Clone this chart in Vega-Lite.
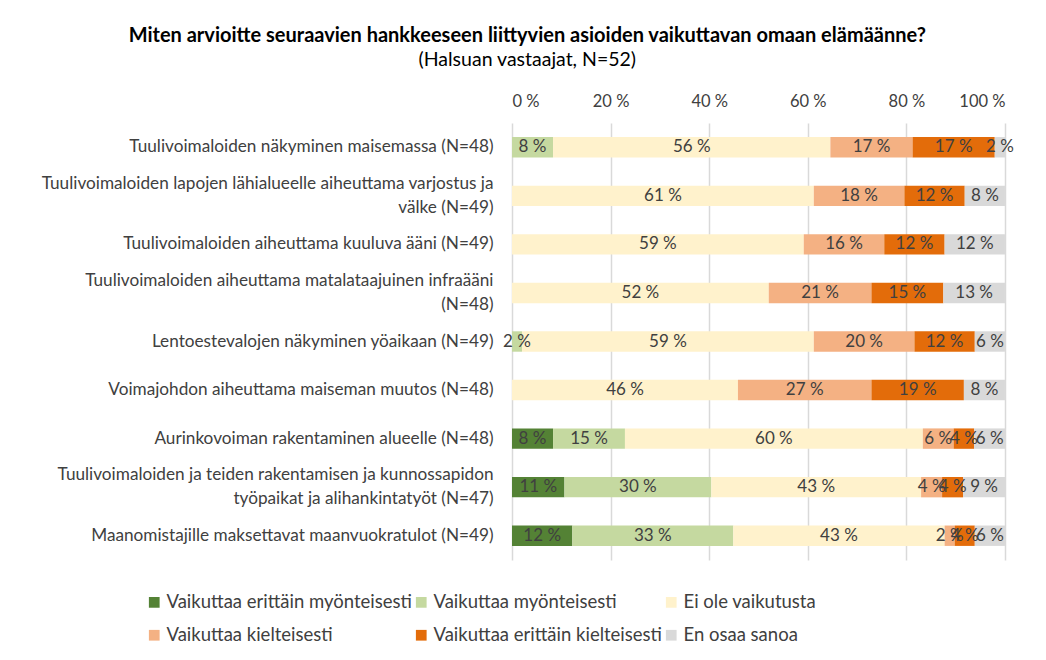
{
  "$schema": "https://vega.github.io/schema/vega-lite/v6.json",
  "width": 493,
  "height": 437,
  "padding": {"left": 40, "top": 25, "right": 15, "bottom": 5},
  "config": {"font": "Lato", "view": {"stroke": null}},
  "title": {
    "text": "Miten arvioitte seuraavien hankkeeseen liittyvien asioiden vaikuttavan omaan elämäänne?",
    "subtitle": "(Halsuan vastaajat, N=52)",
    "fontSize": 20,
    "fontWeight": "bold",
    "color": "#000000",
    "subtitleFontSize": 19.5,
    "subtitleColor": "#000000",
    "subtitlePadding": 5,
    "anchor": "middle",
    "frame": "bounds",
    "offset": 24
  },
  "data": {
    "values": [
      {"item": "Tuulivoimaloiden näkyminen maisemassa (N=48)", "cat": "Vaikuttaa erittäin myönteisesti", "k": 1, "value": 0},
      {"item": "Tuulivoimaloiden näkyminen maisemassa (N=48)", "cat": "Vaikuttaa myönteisesti", "k": 2, "value": 8.33},
      {"item": "Tuulivoimaloiden näkyminen maisemassa (N=48)", "cat": "Ei ole vaikutusta", "k": 3, "value": 56.25},
      {"item": "Tuulivoimaloiden näkyminen maisemassa (N=48)", "cat": "Vaikuttaa kielteisesti", "k": 4, "value": 16.67},
      {"item": "Tuulivoimaloiden näkyminen maisemassa (N=48)", "cat": "Vaikuttaa erittäin kielteisesti", "k": 5, "value": 16.67},
      {"item": "Tuulivoimaloiden näkyminen maisemassa (N=48)", "cat": "En osaa sanoa", "k": 6, "value": 2.08},
      {"item": "Tuulivoimaloiden lapojen lähialueelle aiheuttama varjostus ja|välke (N=49)", "cat": "Ei ole vaikutusta", "k": 3, "value": 61.22},
      {"item": "Tuulivoimaloiden lapojen lähialueelle aiheuttama varjostus ja|välke (N=49)", "cat": "Vaikuttaa kielteisesti", "k": 4, "value": 18.37},
      {"item": "Tuulivoimaloiden lapojen lähialueelle aiheuttama varjostus ja|välke (N=49)", "cat": "Vaikuttaa erittäin kielteisesti", "k": 5, "value": 12.24},
      {"item": "Tuulivoimaloiden lapojen lähialueelle aiheuttama varjostus ja|välke (N=49)", "cat": "En osaa sanoa", "k": 6, "value": 8.16},
      {"item": "Tuulivoimaloiden aiheuttama kuuluva ääni (N=49)", "cat": "Ei ole vaikutusta", "k": 3, "value": 59.18},
      {"item": "Tuulivoimaloiden aiheuttama kuuluva ääni (N=49)", "cat": "Vaikuttaa kielteisesti", "k": 4, "value": 16.33},
      {"item": "Tuulivoimaloiden aiheuttama kuuluva ääni (N=49)", "cat": "Vaikuttaa erittäin kielteisesti", "k": 5, "value": 12.24},
      {"item": "Tuulivoimaloiden aiheuttama kuuluva ääni (N=49)", "cat": "En osaa sanoa", "k": 6, "value": 12.24},
      {"item": "Tuulivoimaloiden aiheuttama matalataajuinen infraääni|(N=48)", "cat": "Ei ole vaikutusta", "k": 3, "value": 52.08},
      {"item": "Tuulivoimaloiden aiheuttama matalataajuinen infraääni|(N=48)", "cat": "Vaikuttaa kielteisesti", "k": 4, "value": 20.83},
      {"item": "Tuulivoimaloiden aiheuttama matalataajuinen infraääni|(N=48)", "cat": "Vaikuttaa erittäin kielteisesti", "k": 5, "value": 14.58},
      {"item": "Tuulivoimaloiden aiheuttama matalataajuinen infraääni|(N=48)", "cat": "En osaa sanoa", "k": 6, "value": 12.5},
      {"item": "Lentoestevalojen näkyminen yöaikaan (N=49)", "cat": "Vaikuttaa myönteisesti", "k": 2, "value": 2.04},
      {"item": "Lentoestevalojen näkyminen yöaikaan (N=49)", "cat": "Ei ole vaikutusta", "k": 3, "value": 59.18},
      {"item": "Lentoestevalojen näkyminen yöaikaan (N=49)", "cat": "Vaikuttaa kielteisesti", "k": 4, "value": 20.41},
      {"item": "Lentoestevalojen näkyminen yöaikaan (N=49)", "cat": "Vaikuttaa erittäin kielteisesti", "k": 5, "value": 12.24},
      {"item": "Lentoestevalojen näkyminen yöaikaan (N=49)", "cat": "En osaa sanoa", "k": 6, "value": 6.12},
      {"item": "Voimajohdon aiheuttama maiseman muutos (N=48)", "cat": "Ei ole vaikutusta", "k": 3, "value": 45.83},
      {"item": "Voimajohdon aiheuttama maiseman muutos (N=48)", "cat": "Vaikuttaa kielteisesti", "k": 4, "value": 27.08},
      {"item": "Voimajohdon aiheuttama maiseman muutos (N=48)", "cat": "Vaikuttaa erittäin kielteisesti", "k": 5, "value": 18.75},
      {"item": "Voimajohdon aiheuttama maiseman muutos (N=48)", "cat": "En osaa sanoa", "k": 6, "value": 8.33},
      {"item": "Aurinkovoiman rakentaminen alueelle (N=48)", "cat": "Vaikuttaa erittäin myönteisesti", "k": 1, "value": 8.33},
      {"item": "Aurinkovoiman rakentaminen alueelle (N=48)", "cat": "Vaikuttaa myönteisesti", "k": 2, "value": 14.58},
      {"item": "Aurinkovoiman rakentaminen alueelle (N=48)", "cat": "Ei ole vaikutusta", "k": 3, "value": 60.42},
      {"item": "Aurinkovoiman rakentaminen alueelle (N=48)", "cat": "Vaikuttaa kielteisesti", "k": 4, "value": 6.25},
      {"item": "Aurinkovoiman rakentaminen alueelle (N=48)", "cat": "Vaikuttaa erittäin kielteisesti", "k": 5, "value": 4.17},
      {"item": "Aurinkovoiman rakentaminen alueelle (N=48)", "cat": "En osaa sanoa", "k": 6, "value": 6.25},
      {"item": "Tuulivoimaloiden ja teiden rakentamisen ja kunnossapidon|työpaikat ja alihankintatyöt (N=47)", "cat": "Vaikuttaa erittäin myönteisesti", "k": 1, "value": 10.64},
      {"item": "Tuulivoimaloiden ja teiden rakentamisen ja kunnossapidon|työpaikat ja alihankintatyöt (N=47)", "cat": "Vaikuttaa myönteisesti", "k": 2, "value": 29.79},
      {"item": "Tuulivoimaloiden ja teiden rakentamisen ja kunnossapidon|työpaikat ja alihankintatyöt (N=47)", "cat": "Ei ole vaikutusta", "k": 3, "value": 42.55},
      {"item": "Tuulivoimaloiden ja teiden rakentamisen ja kunnossapidon|työpaikat ja alihankintatyöt (N=47)", "cat": "Vaikuttaa kielteisesti", "k": 4, "value": 4.26},
      {"item": "Tuulivoimaloiden ja teiden rakentamisen ja kunnossapidon|työpaikat ja alihankintatyöt (N=47)", "cat": "Vaikuttaa erittäin kielteisesti", "k": 5, "value": 4.26},
      {"item": "Tuulivoimaloiden ja teiden rakentamisen ja kunnossapidon|työpaikat ja alihankintatyöt (N=47)", "cat": "En osaa sanoa", "k": 6, "value": 8.51},
      {"item": "Maanomistajille maksettavat maanvuokratulot (N=49)", "cat": "Vaikuttaa erittäin myönteisesti", "k": 1, "value": 12.24},
      {"item": "Maanomistajille maksettavat maanvuokratulot (N=49)", "cat": "Vaikuttaa myönteisesti", "k": 2, "value": 32.65},
      {"item": "Maanomistajille maksettavat maanvuokratulot (N=49)", "cat": "Ei ole vaikutusta", "k": 3, "value": 42.86},
      {"item": "Maanomistajille maksettavat maanvuokratulot (N=49)", "cat": "Vaikuttaa kielteisesti", "k": 4, "value": 2.04},
      {"item": "Maanomistajille maksettavat maanvuokratulot (N=49)", "cat": "Vaikuttaa erittäin kielteisesti", "k": 5, "value": 4.08},
      {"item": "Maanomistajille maksettavat maanvuokratulot (N=49)", "cat": "En osaa sanoa", "k": 6, "value": 6.12}
    ]
  },
  "transform": [
    {"filter": "datum.value > 0"},
    {"stack": "value", "groupby": ["item"], "sort": [{"field": "k", "order": "ascending"}], "as": ["v0", "v1"]},
    {"calculate": "(datum.v0 + datum.v1) / 2", "as": "mid"},
    {"calculate": "format(datum.value, '.0f') + ' %'", "as": "lab"}
  ],
  "encoding": {
    "y": {
      "field": "item",
      "type": "nominal",
      "sort": null,
      "title": null,
      "scale": {"paddingInner": 0.58, "paddingOuter": 0.29},
      "axis": {
        "domain": false,
        "ticks": false,
        "labelFontSize": 17.2,
        "labelColor": "#404040",
        "labelPadding": 19,
        "labelLimit": 0,
        "labelLineHeight": 24,
        "labelOffset": {"condition": {"test": "indexof(datum.value, '|') >= 0", "value": -12}, "value": 0},
        "labelExpr": "split(datum.label, '|')"
      }
    }
  },
  "layer": [
    {
      "mark": {"type": "bar"},
      "encoding": {
        "x": {
          "field": "v0",
          "type": "quantitative",
          "scale": {"domain": [0, 100], "nice": false},
          "title": null,
          "axis": {
            "orient": "top",
            "values": [0, 20, 40, 60, 80, 100],
            "labelExpr": "datum.value + ' %'",
            "grid": true,
            "gridColor": "#d9d9d9",
            "gridWidth": 1.5,
            "domain": false,
            "ticks": false,
            "labelFontSize": 16.5,
            "labelColor": "#404040",
            "labelPadding": 14
          }
        },
        "x2": {"field": "v1"},
        "color": {
          "field": "cat",
          "type": "nominal",
          "scale": {
            "domain": ["Vaikuttaa erittäin myönteisesti", "Vaikuttaa myönteisesti", "Ei ole vaikutusta", "Vaikuttaa kielteisesti", "Vaikuttaa erittäin kielteisesti", "En osaa sanoa"],
            "range": ["#548235", "#c5d9a0", "#fff2cc", "#f4b183", "#e36c0a", "#d9d9d9"]
          },
          "legend": {
            "title": null,
            "orient": "none",
            "legendX": -367,
            "legendY": 470,
            "direction": "horizontal",
            "columns": 3,
            "symbolType": "square",
            "symbolSize": 115,
            "symbolStrokeWidth": 0,
            "labelFontSize": 18.5,
            "labelColor": "#404040",
            "labelOffset": 3,
            "rowPadding": 14,
            "columnPadding": 0,
            "gridAlign": "each",
            "labelLimit": 0
          }
        }
      }
    },
    {
      "mark": {"type": "text", "fontSize": 17, "color": "#404040"},
      "encoding": {
        "x": {"field": "mid", "type": "quantitative"},
        "text": {"field": "lab"}
      }
    }
  ]
}
